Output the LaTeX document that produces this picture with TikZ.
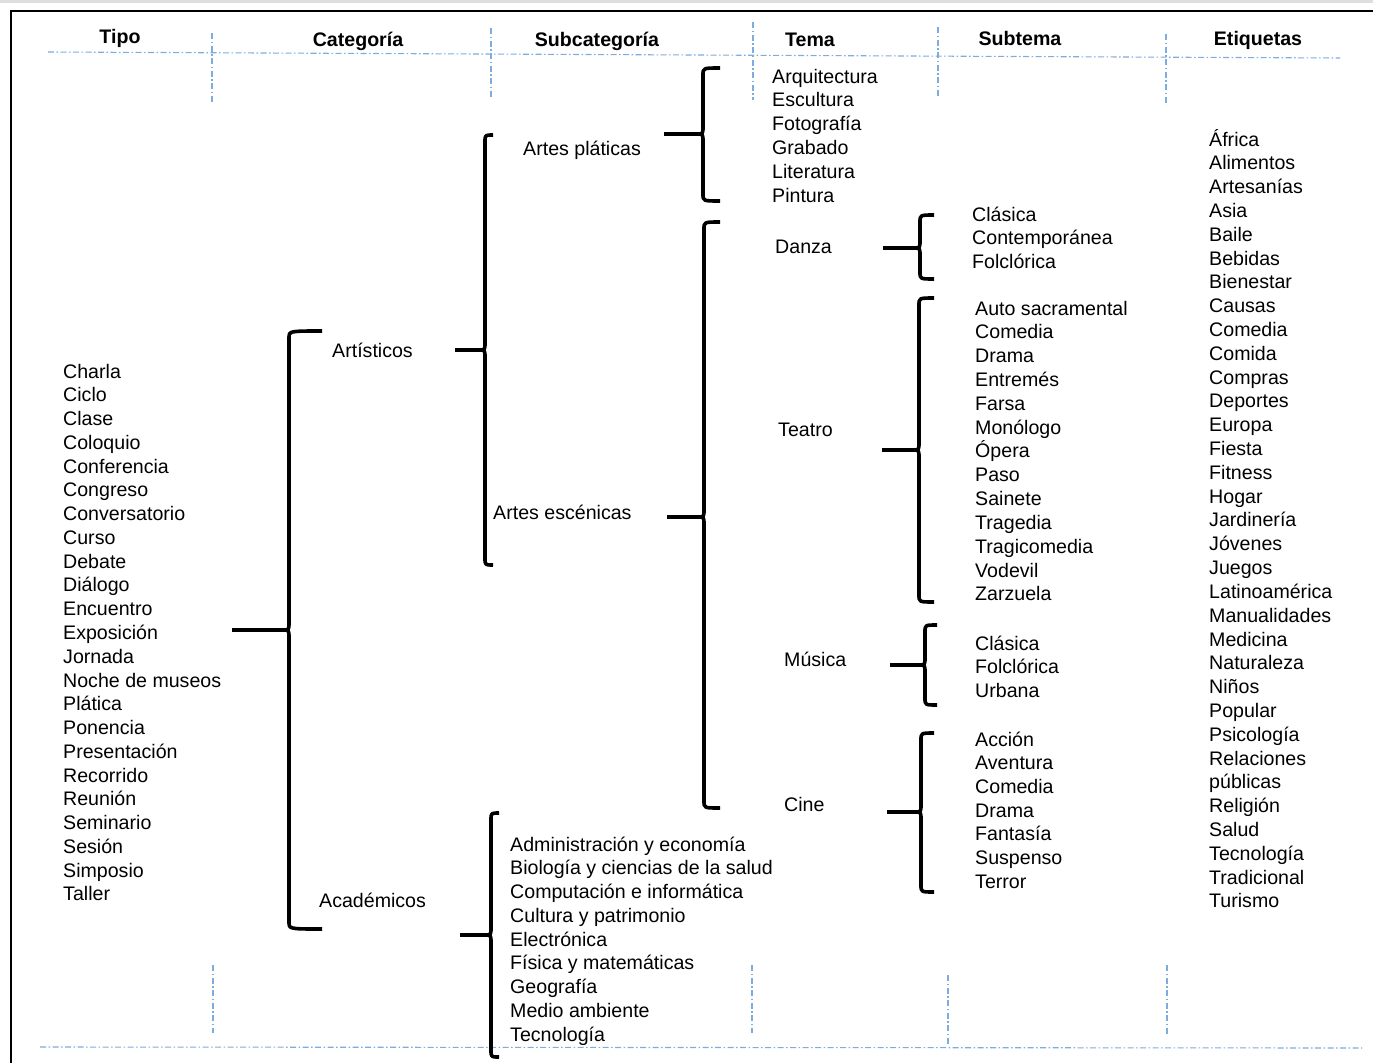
\documentclass[tikz,border=0pt]{standalone}
\usepackage{fontspec}
\setmainfont{Liberation Sans}
\definecolor{sepblue}{RGB}{125,172,222}
\definecolor{stripgray}{RGB}{222,222,222}

% curly brace: name, stem x, brace x, hook x, top y, middle y, bottom y
\newcommand\curlybrace[7]{%
  \coordinate (#1s) at (#2,#6);
  \coordinate (#1c) at (#3-6,#6);
  \draw[brc] (#4,#5) .. controls (#3,#5) .. (#3,#5+7) -- (#3,#6-8)
    .. controls (#3,#6) .. (#1c) .. controls (#3,#6) .. (#3,#6+8)
    -- (#3,#7-7) .. controls (#3,#7) .. (#4,#7);
  \draw[brc] (#1s) -- (#1c);
}

\begin{document}
\begin{tikzpicture}[x=1pt,y=-1pt,
  lbl/.style={anchor=base west, inner sep=0pt, font=\fontsize{19.6}{23.8}\selectfont},
  head/.style={anchor=base, inner sep=0pt, font=\fontsize{19.6}{23.8}\selectfont\bfseries},
  brc/.style={line width=3.6pt, line join=round},
  sep/.style={draw=sepblue, line width=1.1pt, dash pattern=on 6pt off 2.5pt on 1.5pt off 2.5pt},
]
\useasboundingbox (0,0) rectangle (1373,1063);

% page strip and frame
\fill[stripgray] (0,0) rectangle (1373,3);
\draw[line width=2.6pt] (11,1063) -- (11,11) -- (1373,11);

% column separators
\draw[sep] (48,52) -- (1340,58);
\draw[sep] (212,33) -- (212,102);
\draw[sep] (491,28) -- (491,97);
\draw[sep] (753,22) -- (753,100);
\draw[sep] (938,27) -- (938,97);
\draw[sep] (1166,34) -- (1166,105);
\draw[sep] (40,1047) -- (1362,1048);
\draw[sep] (213,965) -- (213,1033);
\draw[sep] (752,965) -- (752,1033);
\draw[sep] (948,975) -- (948,1045);
\draw[sep] (1167,965) -- (1167,1035);

% headers
\node[head] (hTipo) at (120,43) {Tipo};
\node[head] (hCat) at (358,46) {Categoría};
\node[head] (hSub) at (597,46) {Subcategoría};
\node[head] (hTema) at (810,46) {Tema};
\node[head] (hSubt) at (1020,45) {Subtema};
\node[head] (hEtiq) at (1258,45) {Etiquetas};

% Tipo
\foreach \t [count=\i] in {Charla,Ciclo,Clase,Coloquio,Conferencia,Congreso,
  Conversatorio,Curso,Debate,Diálogo,Encuentro,Exposición,Jornada,
  Noche de museos,Plática,Ponencia,Presentación,Recorrido,Reunión,
  Seminario,Sesión,Simposio,Taller}
  \node[lbl] (tipo\i) at (63,{378+23.77*(\i-1)}) {\t};

% Categoria
\node[lbl] (artisticos) at (332,357) {Artísticos};
\node[lbl] (academicos) at (319,907) {Académicos};

% Subcategoria
\node[lbl] (plasticas) at (523,155) {Artes pláticas};
\node[lbl] (escenicas) at (493,519) {Artes escénicas};
\foreach \t [count=\i] in {Administración y economía,Biología y ciencias de la salud,
  Computación e informática,Cultura y patrimonio,Electrónica,Física y matemáticas,
  Geografía,Medio ambiente,Tecnología}
  \node[lbl] (acad\i) at (510,{851+23.77*(\i-1)}) {\t};

% Tema
\foreach \t [count=\i] in {Arquitectura,Escultura,Fotografía,Grabado,Literatura,Pintura}
  \node[lbl] (plas\i) at (772,{83+23.8*(\i-1)}) {\t};
\node[lbl] (danza) at (775,253) {Danza};
\node[lbl] (teatro) at (778,436) {Teatro};
\node[lbl] (musica) at (784,666) {Música};
\node[lbl] (cine) at (784,811) {Cine};

% Subtema
\foreach \t [count=\i] in {Clásica,Contemporánea,Folclórica}
  \node[lbl] (danza\i) at (972,{221+23.7*(\i-1)}) {\t};
\foreach \t [count=\i] in {Auto sacramental,Comedia,Drama,Entremés,Farsa,Monólogo,
  Ópera,Paso,Sainete,Tragedia,Tragicomedia,Vodevil,Zarzuela}
  \node[lbl] (teatro\i) at (975,{315+23.83*(\i-1)}) {\t};
\foreach \t [count=\i] in {Clásica,Folclórica,Urbana}
  \node[lbl] (musica\i) at (975,{650+23.7*(\i-1)}) {\t};
\foreach \t [count=\i] in {Acción,Aventura,Comedia,Drama,Fantasía,Suspenso,Terror}
  \node[lbl] (cine\i) at (975,{746+23.7*(\i-1)}) {\t};

% Etiquetas
\foreach \t [count=\i] in {África,Alimentos,Artesanías,Asia,Baile,Bebidas,Bienestar,
  Causas,Comedia,Comida,Compras,Deportes,Europa,Fiesta,Fitness,Hogar,Jardinería,
  Jóvenes,Juegos,Latinoamérica,Manualidades,Medicina,Naturaleza,Niños,Popular,
  Psicología,Relaciones,públicas,Religión,Salud,Tecnología,Tradicional,Turismo}
  \node[lbl] (etiq\i) at (1209,{146+23.81*(\i-1)}) {\t};

% braces joining each level to the next
\curlybrace{tipoB}{232}{289}{322}{331}{630}{929}
\curlybrace{artB}{455}{485}{493}{135}{350}{565}
\curlybrace{acadB}{460}{491}{499}{813}{935}{1057}
\curlybrace{plasB}{664}{703}{720}{68}{134}{201}
\curlybrace{escB}{667}{704}{720}{222}{517}{808}
\curlybrace{danzaB}{883}{920}{934}{215}{248}{279}
\curlybrace{teatroB}{882}{919}{934}{298}{450}{602}
\curlybrace{musicaB}{890}{925}{937}{625}{665}{705}
\curlybrace{cineB}{887}{921}{934}{733}{812}{892}
\end{tikzpicture}
\end{document}
